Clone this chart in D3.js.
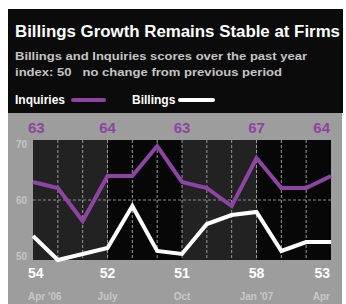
<!DOCTYPE html>
<html>
<head>
  <script src="https://d3js.org/d3.v7.min.js"></script>
  <style>
    body { margin: 0; background: #ffffff; }
    text { font-family: 'Liberation Sans', Arial, sans-serif; }
  </style>
</head>
<body>
  <div id="chart"></div>
  <script>
    var width = 346, height = 304;

    // monthly readings, Apr '06 .. Apr '07
    const months = ["Apr '06", "May", "Jun", "July", "Aug", "Sep", "Oct", "Nov", "Dec", "Jan '07", "Feb", "Mar", "Apr"];
    const inquiries = [63, 62, 56.5, 64, 64, 69, 63, 62, 59, 67, 62, 62, 64];
    const billings = [54, 50, 51, 52, 59, 51.5, 51, 56, 57.5, 58, 51.5, 53, 53];
    // months that carry a value label
    const labelIndex = [0, 3, 6, 9, 12];
    const yTicks = [70, 60, 50];

    const purple = "#8e44a2";

    var svg = d3.select("#chart").append("svg")
      .attr("width", width)
      .attr("height", height);

    // header block
    svg.append("rect")
      .attr("x", 8).attr("y", 9)
      .attr("width", 335).attr("height", 104)
      .style("fill", "#0b0b0b");

    // grey panel
    svg.append("rect")
      .attr("x", 8).attr("y", 113)
      .attr("width", 334).attr("height", 191)
      .style("fill", "#9d9d9d");

    svg.append("text")
      .attr("x", 15).attr("y", 37)
      .attr("textLength", 325)
      .attr("lengthAdjust", "spacingAndGlyphs")
      .style("font-size", "16px")
      .style("font-weight", "bold")
      .style("fill", "#ffffff")
      .text("Billings Growth Remains Stable at Firms");

    svg.append("text")
      .attr("x", 15).attr("y", 60)
      .attr("textLength", 292)
      .attr("lengthAdjust", "spacingAndGlyphs")
      .style("font-size", "11px")
      .style("font-weight", "bold")
      .style("fill", "#c4c4c4")
      .text("Billings and Inquiries scores over the past year");

    svg.append("text")
      .attr("x", 15).attr("y", 76)
      .attr("textLength", 267)
      .attr("lengthAdjust", "spacingAndGlyphs")
      .style("font-size", "11px")
      .style("font-weight", "bold")
      .style("fill", "#c4c4c4")
      .style("white-space", "pre")
      .text("index: 50   no change from previous period");

    // legend
    var legend = [
      { name: "Inquiries", x: 15, sx: 73, sw: 31, color: purple },
      { name: "Billings", x: 132, sx: 180, sw: 33, color: "#ffffff" }
    ];
    legend.forEach(function (d) {
      svg.append("text")
        .attr("x", d.x).attr("y", 104)
        .style("font-size", "12px")
        .style("font-weight", "bold")
        .style("fill", "#ffffff")
        .text(d.name);
      svg.append("line")
        .attr("x1", d.sx).attr("x2", d.sx + d.sw)
        .attr("y1", 100).attr("y2", 100)
        .style("stroke", d.color)
        .style("stroke-width", 4)
        .style("stroke-linecap", "round");
    });

    var x = d3.scaleLinear()
      .domain([0, months.length - 1])
      .range([33, 331]);

    var y = d3.scaleLinear()
      .domain([50, 70])
      .range([260, 140]);

    // quarter bands
    var bands = d3.range(0, months.length - 1, 3);
    svg.append("g").selectAll("rect")
      .data(bands)
      .enter()
      .append("rect")
      .attr("x", function (d) { return x(d); })
      .attr("y", y(70))
      .attr("width", function (d) { return x(d + 3) - x(d); })
      .attr("height", y(50) - y(70))
      .style("fill", function (d, i) { return i % 2 == 0 ? "#222222" : "#070707"; });

    // dashed grid
    svg.append("g").selectAll("line")
      .data(d3.range(1, months.length - 1))
      .enter()
      .append("line")
      .attr("x1", function (d) { return x(d); })
      .attr("x2", function (d) { return x(d); })
      .attr("y1", y(70)).attr("y2", y(50))
      .style("stroke", "#9a9a9a")
      .style("stroke-width", 1)
      .style("stroke-dasharray", "3,2");

    svg.append("line")
      .attr("x1", x(0)).attr("x2", x(months.length - 1))
      .attr("y1", y(60)).attr("y2", y(60))
      .style("stroke", "#8a8a8a")
      .style("stroke-width", 1)
      .style("stroke-dasharray", "3,2");

    // y labels
    svg.append("g").selectAll("text")
      .data(yTicks)
      .enter()
      .append("text")
      .attr("x", 16)
      .attr("y", function (d) { return y(d); })
      .attr("dy", function (d) { return d == 70 ? "0.75em" : (d == 50 ? "0" : "0.35em"); })
      .style("font-size", "10px")
      .style("font-weight", "bold")
      .style("fill", "#c6c6c6")
      .text(function (d) { return d; });

    var line = d3.line()
      .x(function (d, i) { return x(i); })
      .y(function (d) { return y(d); });

    svg.append("path")
      .datum(inquiries)
      .attr("d", line)
      .style("fill", "none")
      .style("stroke", purple)
      .style("stroke-width", 4);

    svg.append("path")
      .datum(billings)
      .attr("d", line)
      .style("fill", "none")
      .style("stroke", "#ffffff")
      .style("stroke-width", 4);

    function anchor(i) {
      if (i == 0) return "start";
      if (i == months.length - 1) return "end";
      return "middle";
    }
    function labelX(i) {
      return i == 0 ? x(i) - 5 : x(i) - (i == months.length - 1 ? 1 : 0);
    }

    // value labels
    svg.append("g").selectAll("text")
      .data(labelIndex)
      .enter()
      .append("text")
      .attr("x", labelX)
      .attr("y", 133)
      .attr("text-anchor", anchor)
      .style("font-size", "15px")
      .style("font-weight", "bold")
      .style("fill", purple)
      .text(function (i) { return inquiries[i]; });

    svg.append("g").selectAll("text")
      .data(labelIndex)
      .enter()
      .append("text")
      .attr("x", labelX)
      .attr("y", 278)
      .attr("text-anchor", anchor)
      .style("font-size", "14px")
      .style("font-weight", "bold")
      .style("fill", "#ffffff")
      .text(function (i) { return billings[i]; });

    svg.append("g").selectAll("text")
      .data(labelIndex)
      .enter()
      .append("text")
      .attr("x", labelX)
      .attr("y", 300)
      .attr("text-anchor", anchor)
      .style("font-size", "10px")
      .style("font-weight", "bold")
      .style("fill", "#c8c8c8")
      .text(function (i) { return months[i]; });
  </script>
</body>
</html>
